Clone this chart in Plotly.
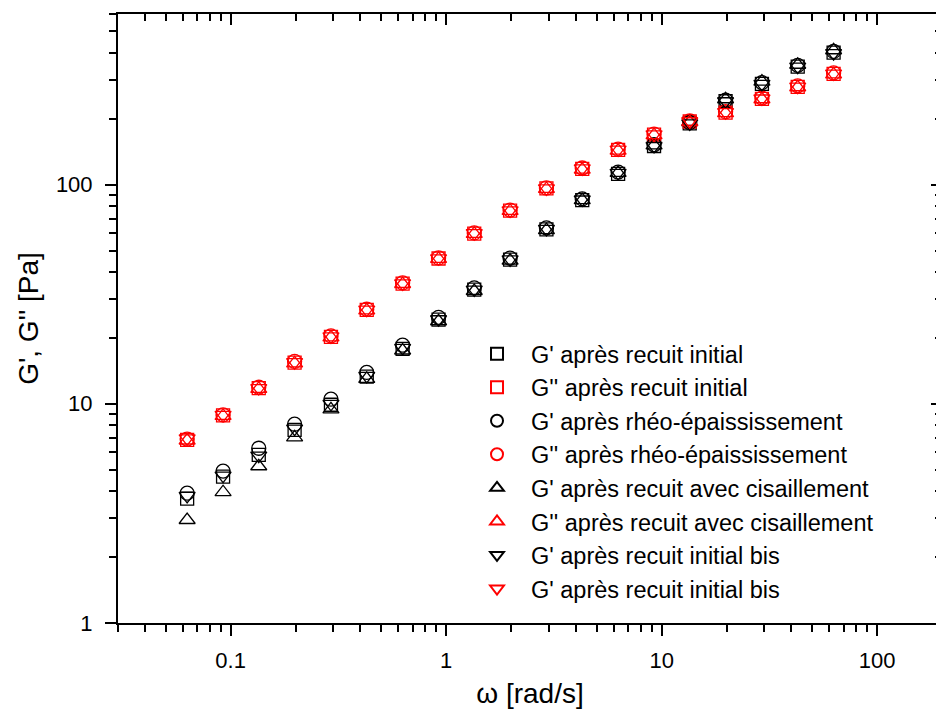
import math
import plotly.graph_objects as go

# angular frequency (rad/s)
omega = [0.0628, 0.0922, 0.135, 0.198, 0.292, 0.428, 0.628, 0.922, 1.35, 1.98,
         2.92, 4.28, 6.28, 9.22, 13.5, 19.8, 29.2, 42.8, 62.8]

# G' (black)
gp_recuit_initial = [3.69, 4.65, 5.85, 7.6, 9.9, 13.3, 17.8, 24.2, 33.2, 45.5,
                     62.5, 85, 112, 150, 190, 240, 288, 345, 400]
gp_rheo = [3.91, 4.93, 6.27, 8.07, 10.5, 13.9, 18.5, 24.8, 33.8, 46.2,
           63.5, 86, 114, 152, 192, 243, 292, 350, 405]
gp_cisaillement = [2.95, 3.95, 5.19, 7.03, 9.44, 13.0, 17.5, 23.8, 32.7, 45.0,
                   62.0, 85, 113, 151, 193, 245, 295, 352, 410]
gp_bis = [3.8, 4.7, 5.8, 7.7, 10.0, 13.4, 18.0, 24.3, 33.2, 45.6,
          62.8, 85.5, 113, 150, 190, 240, 288, 345, 398]

# G'' (red)
gs_recuit_initial = [6.85, 8.85, 11.8, 15.4, 20.2, 26.8, 35.3, 46, 59.8, 76,
                     96, 118, 144, 169, 194, 213, 246, 279, 320]
gs_rheo = [6.9, 8.9, 11.9, 15.6, 20.4, 27.0, 35.6, 46.3, 60.2, 76.5,
           96.5, 119, 145, 170, 195, 215, 248, 282, 323]
gs_cisaillement = [6.8, 8.8, 11.7, 15.3, 20.1, 26.7, 35.2, 45.8, 59.6, 75.8,
                   95.5, 117, 143, 168, 193, 212, 245, 278, 318]
gs_bis = [6.95, 8.9, 11.8, 15.5, 20.3, 26.9, 35.4, 46.1, 60, 76.2,
          96, 118.5, 144.5, 169.5, 194.5, 214, 247, 280, 321]

series_names = [
    "G' après recuit initial",
    "G'' après recuit initial",
    "G' après rhéo-épaississement",
    "G'' après rhéo-épaississement",
    "G' après recuit avec cisaillement",
    "G'' après recuit avec cisaillement",
    "G' après recuit initial bis",
    "G' après recuit initial bis",
]
series_values = [gp_recuit_initial, gs_recuit_initial, gp_rheo, gs_rheo,
                 gp_cisaillement, gs_cisaillement, gp_bis, gs_bis]
series_symbols = ["square-open", "square-open", "circle-open", "circle-open",
                  "triangle-up-open", "triangle-up-open",
                  "triangle-down-open", "triangle-down-open"]
series_colors = ["#000000", "#ff0000"] * 4
series_sizes = [13, 13, 14, 14, 14, 14, 14, 14]

x_tickvals = [0.1, 1, 10, 100]
x_ticktext = ["0.1", "1", "10", "100"]
y_tickvals = [1, 10, 100]
y_ticktext = ["1", "10", "100"]

x_range = [0.03, 200]
y_range = [1, 600]


def minor_vals(lo, hi):
    out = []
    d = math.floor(math.log10(lo))
    while 10 ** d <= hi:
        for m in range(2, 10):
            v = m * 10 ** d
            if lo <= v <= hi:
                out.append(v)
        d += 1
    return out


fig = go.Figure()
for name, vals, sym, col, sz in zip(series_names, series_values,
                                    series_symbols, series_colors, series_sizes):
    fig.add_trace(go.Scatter(
        x=omega, y=vals, mode="markers", name=name,
        marker=dict(symbol=sym, size=sz, color=col,
                    line=dict(color=col, width=1.3)),
    ))

# invisible trace so the mirrored top/right axes (inward ticks) are drawn
fig.add_trace(go.Scatter(x=[omega[0]], y=[gp_bis[0]], xaxis="x2", yaxis="y2",
                         mode="markers", marker=dict(opacity=0),
                         showlegend=False, hoverinfo="skip"))

font_family = "Liberation Sans, Arial, sans-serif"
axis_common = dict(type="log", showgrid=False, zeroline=False, automargin=False,
                   showline=True, linecolor="black", linewidth=2,
                   tickcolor="black", tickwidth=2)
xr = [math.log10(x_range[0]), math.log10(x_range[1])]
yr = [math.log10(y_range[0]), math.log10(y_range[1])]

fig.update_layout(
    width=936, height=701,
    margin=dict(l=110, r=2, t=6, b=86),
    paper_bgcolor="white", plot_bgcolor="white",
    font=dict(family=font_family, color="black"),
    xaxis=dict(**axis_common, range=xr,
               tickvals=x_tickvals, ticktext=x_ticktext,
               ticks="outside", ticklen=11,
               tickfont=dict(size=22), ticklabelstandoff=6,
               minor=dict(tickvals=minor_vals(*x_range), ticks="outside",
                          ticklen=7, tickcolor="black", tickwidth=2),
               title=dict(text="ω [rad/s]", font=dict(size=28), standoff=20)),
    yaxis=dict(**axis_common, range=yr,
               tickvals=y_tickvals, ticktext=y_ticktext,
               ticks="outside", ticklen=11,
               tickfont=dict(size=22), ticklabelstandoff=8,
               minor=dict(tickvals=minor_vals(*y_range), ticks="outside",
                          ticklen=7, tickcolor="black", tickwidth=2),
               title=dict(text="G', G'' [Pa]", font=dict(size=28), standoff=9)),
    xaxis2=dict(**axis_common, overlaying="x", side="top", anchor="y2",
                range=xr, tickvals=x_tickvals, showticklabels=False,
                ticks="inside", ticklen=11,
                minor=dict(tickvals=minor_vals(*x_range), ticks="inside",
                           ticklen=7, tickcolor="black", tickwidth=2)),
    yaxis2=dict(**axis_common, overlaying="y", side="right", anchor="x2",
                range=yr, tickvals=y_tickvals, showticklabels=False,
                ticks="inside", ticklen=11,
                minor=dict(tickvals=minor_vals(*y_range), ticks="inside",
                           ticklen=7, tickcolor="black", tickwidth=2)),
    legend=dict(x=0.4187, y=0.478, xanchor="left", yanchor="top",
                bgcolor="rgba(0,0,0,0)", borderwidth=0,
                font=dict(size=23.5, family=font_family),
                itemsizing="constant", itemwidth=58),
    showlegend=True,
)

fig.write_html("out.html")
